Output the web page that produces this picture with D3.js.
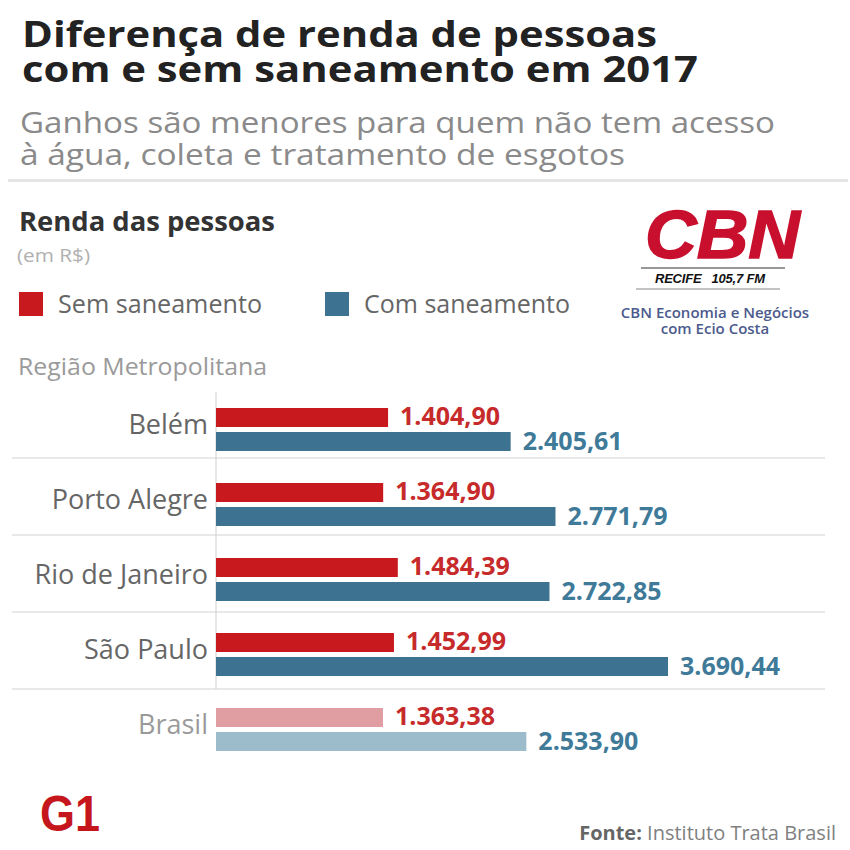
<!DOCTYPE html>
<meta charset="utf-8">
<style>
body { margin: 0; background: #fff; }
svg { display: block; font-family: "Open Sans", sans-serif; }
</style>
<svg width="850" height="850"></svg>
<script src="https://d3js.org/d3.v7.min.js"></script>
<script>

var regioes = ["Belém", "Porto Alegre", "Rio de Janeiro", "São Paulo", "Brasil"];
var semSaneamento = [1404.90, 1364.90, 1484.39, 1452.99, 1363.38];
var comSaneamento = [2405.61, 2771.79, 2722.85, 3690.44, 2533.90];
var series = ["Sem saneamento", "Com saneamento"];

var titulo = ["Diferença de renda de pessoas", "com e sem saneamento em 2017"];
var subtitulo = ["Ganhos são menores para quem não tem acesso", "à água, coleta e tratamento de esgotos"];

var svg = d3.select("svg");

var br = d3.formatLocale({decimal: ",", thousands: ".", grouping: [3], currency: ["R$", ""]});
var fmt = br.format(",.2f");

var cores = {
  sem: "#c8191f", com: "#3d7291",
  semClaro: "#e09ea3", comClaro: "#9dbccb",
  semTexto: "#c62a2a", comTexto: "#3f7a99"
};

// cabeçalho
svg.selectAll(".titulo")
  .data(titulo)
  .enter().append("text")
    .attr("class", "titulo")
    .attr("x", 22)
    .attr("y", function(d, i) { return 47 + i * 35; })
    .attr("textLength", function(d, i) { return i ? 676 : 635; })
    .attr("lengthAdjust", "spacingAndGlyphs")
    .style("font-size", "36px")
    .style("font-weight", 700)
    .style("fill", "#222")
    .text(function(d) { return d; });

svg.selectAll(".subtitulo")
  .data(subtitulo)
  .enter().append("text")
    .attr("class", "subtitulo")
    .attr("x", 20)
    .attr("y", function(d, i) { return 133 + i * 32; })
    .attr("textLength", function(d, i) { return i ? 605 : 755; })
    .attr("lengthAdjust", "spacingAndGlyphs")
    .style("font-size", "29px")
    .style("fill", "#8a8a8a")
    .text(function(d) { return d; });

svg.append("rect")
    .attr("x", 8).attr("y", 179).attr("width", 840).attr("height", 3)
    .style("fill", "#e4e4e4");

svg.append("text")
    .attr("x", 19).attr("y", 231)
    .attr("textLength", 256).attr("lengthAdjust", "spacingAndGlyphs")
    .style("font-size", "27px").style("font-weight", 700).style("fill", "#333")
    .text("Renda das pessoas");

svg.append("text")
    .attr("x", 17).attr("y", 262)
    .attr("textLength", 73).attr("lengthAdjust", "spacingAndGlyphs")
    .style("font-size", "18px").style("fill", "#b0b0b0")
    .text("(em R$)");

// legenda
var legenda = svg.selectAll(".legenda")
  .data(series)
  .enter().append("g")
    .attr("class", "legenda")
    .attr("transform", function(d, i) { return "translate(" + (19 + i * 306) + ",292)"; });

legenda.append("rect")
    .attr("width", 24).attr("height", 24)
    .style("fill", function(d, i) { return i ? cores.com : cores.sem; });

legenda.append("text")
    .attr("x", 39).attr("y", 21)
    .attr("textLength", function(d, i) { return i ? 206 : 204; })
    .attr("lengthAdjust", "spacingAndGlyphs")
    .style("font-size", "25px").style("fill", "#666")
    .text(function(d) { return d; });

svg.append("text")
    .attr("x", 18).attr("y", 375)
    .attr("textLength", 249).attr("lengthAdjust", "spacingAndGlyphs")
    .style("font-size", "23px").style("fill", "#9a9a9a")
    .text("Região Metropolitana");

// logo CBN
var cbn = svg.append("g");
cbn.append("text")
    .attr("x", 645).attr("y", 258)
    .attr("textLength", 155).attr("lengthAdjust", "spacingAndGlyphs")
    .style("font-family", "'Liberation Sans', Arial, sans-serif")
    .style("font-size", "68px").style("font-weight", 700).style("font-style", "italic")
    .style("fill", "#c8102e")
    .style("stroke", "#c8102e").style("stroke-width", 1.5)
    .text("CBN");
cbn.append("line")
    .attr("x1", 641).attr("x2", 785).attr("y1", 268).attr("y2", 268)
    .style("stroke", "#333").style("stroke-width", 1.2);
cbn.append("text")
    .attr("x", 655).attr("y", 283)
    .attr("textLength", 110).attr("lengthAdjust", "spacing")
    .style("font-family", "'Liberation Sans', Arial, sans-serif")
    .style("font-size", "13px").style("font-weight", 700).style("font-style", "italic")
    .style("fill", "#111")
    .text("RECIFE\u00a0\u00a0\u00a0105,7 FM");
cbn.append("line")
    .attr("x1", 636).attr("x2", 780).attr("y1", 289).attr("y2", 289)
    .style("stroke", "#888").style("stroke-width", 1.2);
cbn.selectAll(".cbn-sub")
  .data(["CBN Economia e Negócios", "com Ecio Costa"])
  .enter().append("text")
    .attr("x", 715).attr("y", function(d, i) { return 318 + i * 16; })
    .attr("text-anchor", "middle")
    .style("font-size", "15px").style("font-weight", 600)
    .style("fill", "#4b5a8c")
    .text(function(d) { return d; });

// escalas
var maxValor = d3.max(comSaneamento.concat(semSaneamento));

var x = d3.scaleLinear()
    .domain([0, maxValor])
    .range([216, 668]);

var y = d3.scaleBand()
    .domain(regioes)
    .range([400, 775]);

var barH = 19;

var linhas = regioes.map(function(r, i) {
  return {regiao: r, sem: semSaneamento[i], com: comSaneamento[i], brasil: r === "Brasil"};
});

// separadores entre as linhas
var separadores = regioes.slice(1).map(function(r, i) { return y(r) - 17 + i * 2; });

svg.selectAll(".sep")
  .data(separadores)
  .enter().append("rect")
    .attr("class", "sep")
    .attr("x", 12)
    .attr("width", 813)
    .attr("y", function(d) { return d - 1; })
    .attr("height", 2)
    .style("fill", "#e8e8e8");

// eixo
svg.append("line")
    .attr("x1", x(0)).attr("x2", x(0))
    .attr("y1", y.range()[0] - 8)
    .attr("y2", separadores[separadores.length - 1])
    .style("stroke", "#cfcfcf").style("stroke-width", 1);

var grupo = svg.selectAll(".linha")
  .data(linhas)
  .enter().append("g")
    .attr("class", "linha")
    .attr("transform", function(d) { return "translate(0," + y(d.regiao) + ")"; });

grupo.append("text")
    .attr("x", 208)
    .attr("y", 34)
    .attr("text-anchor", "end")
    .style("font-size", "27px")
    .style("fill", function(d) { return d.brasil ? "#9a9a9a" : "#666"; })
    .text(function(d) { return d.regiao; });

grupo.append("rect")
    .attr("x", x(0))
    .attr("y", 8)
    .attr("height", barH)
    .attr("width", function(d) { return x(d.sem) - x(0); })
    .style("fill", function(d) { return d.brasil ? cores.semClaro : cores.sem; });

grupo.append("rect")
    .attr("x", x(0))
    .attr("y", 32)
    .attr("height", barH)
    .attr("width", function(d) { return x(d.com) - x(0); })
    .style("fill", function(d) { return d.brasil ? cores.comClaro : cores.com; });

grupo.append("text")
    .attr("x", function(d) { return x(d.sem) + 12; })
    .attr("y", 25)
    .style("font-size", "25px").style("font-weight", 700)
    .style("fill", cores.semTexto)
    .text(function(d) { return fmt(d.sem); });

grupo.append("text")
    .attr("x", function(d) { return x(d.com) + 12; })
    .attr("y", 50)
    .style("font-size", "25px").style("font-weight", 700)
    .style("fill", cores.comTexto)
    .text(function(d) { return fmt(d.com); });

// rodapé
svg.append("text")
    .attr("x", 40).attr("y", 831)
    .attr("textLength", 60).attr("lengthAdjust", "spacingAndGlyphs")
    .style("font-family", "'Liberation Sans', Arial, sans-serif")
    .style("font-size", "50px").style("font-weight", 700)
    .style("fill", "#c4161c")
    .text("G1");

var fonte = svg.append("text")
    .attr("x", 836).attr("y", 840)
    .attr("text-anchor", "end")
    .style("font-size", "20px").style("fill", "#808080");
fonte.append("tspan").style("font-weight", 700).style("fill", "#666").text("Fonte:");
fonte.append("tspan").text(" Instituto Trata Brasil");

</script>
